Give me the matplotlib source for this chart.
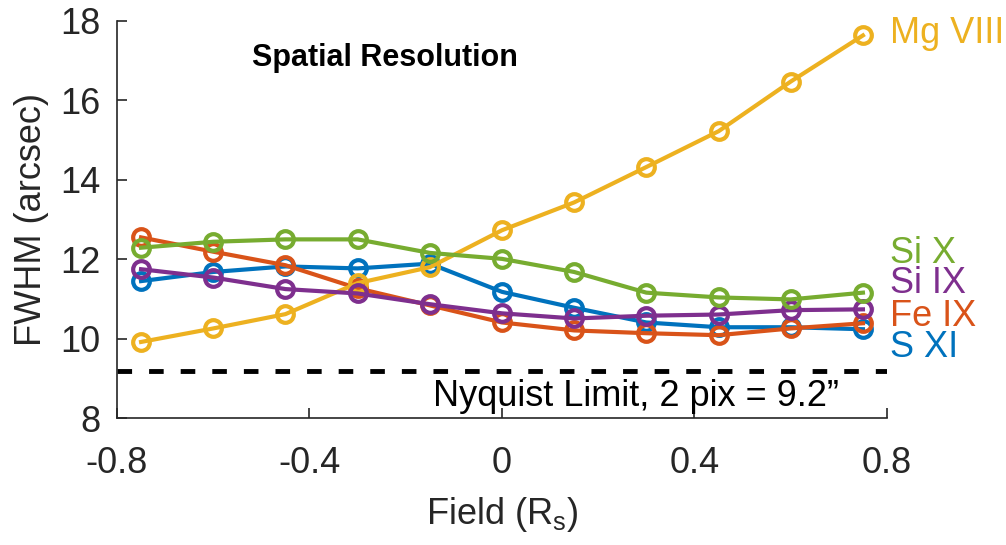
import numpy as np
import matplotlib.pyplot as plt
from matplotlib import font_manager

plt.rcParams['font.family'] = ['Liberation Sans', 'DejaVu Sans']
plt.rcParams['mathtext.fontset'] = 'custom'
plt.rcParams['mathtext.rm'] = 'Liberation Sans'

field = [-0.75, -0.6, -0.45, -0.3, -0.15, 0, 0.15, 0.3, 0.45, 0.6, 0.75]

s_xi = [11.45, 11.68, 11.82, 11.77, 11.89, 11.18, 10.78, 10.41, 10.29, 10.29, 10.24]
fe_ix = [12.55, 12.19, 11.85, 11.27, 10.84, 10.41, 10.21, 10.14, 10.09, 10.26, 10.39]
mg_viii = [9.92, 10.26, 10.62, 11.40, 11.80, 12.73, 13.43, 14.32, 15.22, 16.47, 17.63]
si_ix = [11.75, 11.54, 11.25, 11.14, 10.87, 10.64, 10.51, 10.58, 10.61, 10.72, 10.74]
si_x = [12.29, 12.44, 12.50, 12.50, 12.16, 12.01, 11.68, 11.16, 11.04, 10.99, 11.16]

names = ["S XI", "Fe IX", "Mg VIII", "Si IX", "Si X"]
colors = ["#0072BD", "#D95319", "#EDB120", "#7E2F8E", "#77AC30"]
nyquist = 9.2

# narrow bold font for the title if there is one
installed = {f.name for f in font_manager.fontManager.ttflist}
title_font = dict(family='Liberation Sans', fontsize=22)
if 'Liberation Sans Narrow' in installed:
    title_font = dict(family='Liberation Sans Narrow', fontsize=27)

fig = plt.figure(figsize=(10.06, 5.45), dpi=100)
ax = fig.add_axes([0.1163, 0.2325, 0.7654, 0.7295])

for vals, c in zip([s_xi, fe_ix, mg_viii, si_ix, si_x], colors):
    ax.plot(field, vals, color=c, lw=3, marker='o', ms=12, mfc='none', mew=3)

ax.axhline(nyquist, color='black', lw=3.5, dashes=(3, 3.5))

fs = 26
# labels at the right side
ax.text(0.807, 17.68, "Mg VIII", color=colors[2], fontsize=fs, va='center', ha='left', clip_on=False)
ax.text(0.807, 12.15, "Si X", color=colors[4], fontsize=fs, va='center', ha='left', clip_on=False)
ax.text(0.807, 11.40, "Si IX", color=colors[3], fontsize=fs, va='center', ha='left', clip_on=False)
ax.text(0.807, 10.55, "Fe IX", color=colors[1], fontsize=fs, va='center', ha='left', clip_on=False)
ax.text(0.807, 9.77, "S XI", color=colors[0], fontsize=fs, va='center', ha='left', clip_on=False)

ax.text(0.279, 8.54, "Nyquist Limit, 2 pix = 9.2\u201d", fontsize=fs, ha='center', va='center')
ax.text(-0.243, 17.05, "Spatial Resolution", fontweight='bold', ha='center', va='center', **title_font)

ax.set_xlim(-0.8, 0.8)
ax.set_ylim(8, 18)
ax.set_xticks([-0.8, -0.4, 0, 0.4, 0.8])
ax.set_xticklabels(["-0.8", "-0.4", "0", "0.4", "0.8"])
ax.set_yticks([8, 10, 12, 14, 16, 18])
ax.tick_params(direction='in', length=7, width=1.2, labelsize=fs, color='#262626', labelcolor='#262626')
ax.tick_params(axis='x', pad=20)
ax.tick_params(axis='y', pad=12)
ax.spines['top'].set_visible(False)
ax.spines['right'].set_visible(False)
for s in ['left', 'bottom']:
    ax.spines[s].set_linewidth(1.2)
    ax.spines[s].set_color('#262626')

ax.set_xlabel(r"Field (R$_\mathregular{s}$)", fontsize=fs, color='#262626', labelpad=10)
ax.set_ylabel("FWHM (arcsec)", fontsize=fs, color='#262626', labelpad=8)

fig.savefig("out.png", dpi=100)
